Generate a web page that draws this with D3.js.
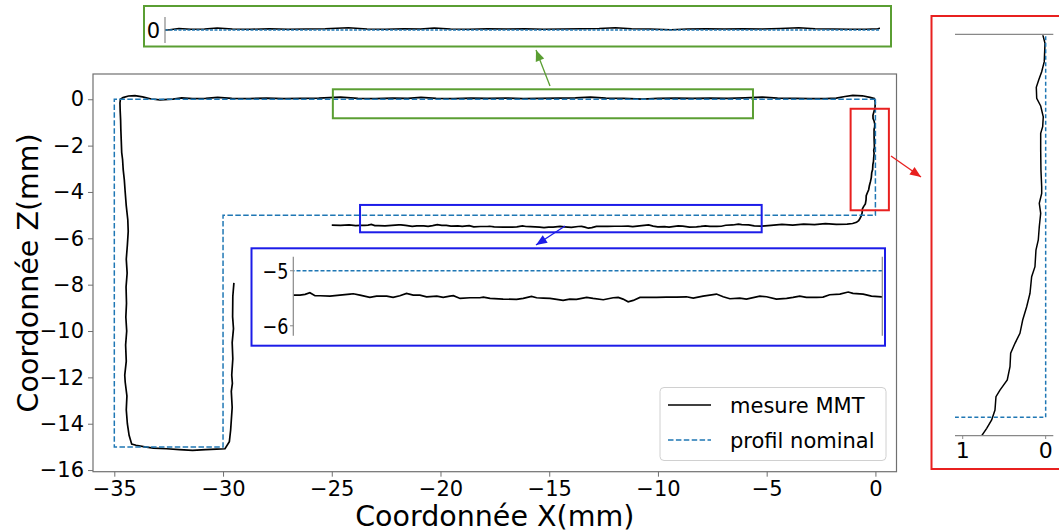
<!DOCTYPE html>
<html><head><meta charset="utf-8">
<script src="https://cdn.jsdelivr.net/npm/d3@7"></script>
<style>body{margin:0;background:#fff}svg{display:block}text{font-family:"DejaVu Sans",sans-serif;fill:#000}</style>
</head><body><svg id="c" width="1059" height="532"></svg>
<script>
// ---- data (mm) ----
const measureX = [-29.50,-29.55,-29.56,-29.52,-29.58,-29.55,-29.60,-29.57,-29.62,-29.58,-29.65,-29.71,-29.91,-30.3,-30.8,-31.4,-32.0,-32.6,-33.2,-33.6,-34.0,-34.2,
 -34.32,-34.40,-34.45,-34.42,-34.50,-34.52,-34.45,-34.48,-34.43,-34.47,-34.44,-34.46,-34.41,-34.45,-34.40,-34.36,-34.38,-34.45,-34.50,-34.54,-34.59,-34.62,-34.66,-34.68,-34.70,-34.71,-34.73,-34.74,-34.72,-34.6,-34.35,-34.05,-33.7,-33.3,
 -32.9,-32.3,-31.9,-31.4,-30.8,-30.25,-29.6,-28.8,-28.0,-27.2,-26.4,-25.6,-24.6,-23.8,-23.0,-22.2,-21.5,-20.9,-20.2,-19.4,-18.6,-17.8,-17.0,-16.2,-15.4,-14.6,-13.8,-13.1,-12.4,-11.6,-10.7,-10.0,-9.2,-8.4,-7.6,-6.8,-6.0,-5.2,-4.5,-3.7,-3.0,-2.3,-1.8,-1.4,-1.04,-0.6,-0.25,-0.05,
 -0.036,-0.008,-0.017,-0.048,-0.084,-0.113,-0.108,-0.060,-0.029,-0.036,-0.060,-0.060,-0.057,-0.048,-0.048,-0.077,-0.060,-0.077,-0.089,-0.117,-0.129,-0.169,-0.189,-0.229,-0.277,-0.310,-0.370,-0.422,-0.430,-0.463,-0.551,-0.599,-0.611,-0.651,-0.711,-0.771,-0.87,-1.05,-1.3,
 -1.8,-2.3,-2.8,-3.3,-3.8,-4.3,-4.8,-5.25,-5.57,-5.83,-6.15,-6.30,-6.56,-6.88,-7.09,-7.29,-7.61,-7.82,-8.03,-8.23,-8.55,-8.86,-9.07,-9.49,-9.70,-10.01,-10.22,-10.43,-10.85,-11.16,-11.37,-11.68,-12.00,-12.31,-12.52,-12.83,-13.04,-13.20,-13.36,-13.51,-13.67,-13.98,-14.30,-14.50,-14.82,
 -15.03,-15.24,-15.44,-15.65,-15.86,-16.07,-16.23,-16.49,-16.70,-17.12,-17.53,-17.74,-17.85,-18.16,-18.47,-18.68,-18.79,-19.00,-19.20,-19.52,-19.73,-19.94,-20.15,-20.36,-20.57,-20.77,-21.09,-21.30,-21.61,-21.82,-21.92,-22.24,-22.55,-22.86,-23.02,-23.18,-23.33,-23.49,-23.70,-23.9,-24.2,-24.6,-25.0];
const measureZ = [-7.92,-8.5,-9.38,-9.9,-10.5,-11.2,-11.9,-12.26,-12.6,-13.3,-14.27,-14.78,-15.08,-15.10,-15.12,-15.15,-15.12,-15.08,-15.05,-15.00,-14.93,-14.88,
 -14.5,-14.0,-13.4,-12.8,-12.2,-11.9,-11.3,-10.6,-10.0,-9.4,-8.8,-8.1,-7.5,-6.9,-6.3,-5.7,-5.2,-4.6,-4.0,-3.48,-3.05,-2.6,-2.3,-1.8,-1.3,-0.9,-0.5,-0.16,0.0,0.07,0.14,0.16,0.10,0.01,
 -0.03,0.01,0.06,0.03,0.04,0.08,0.04,0.03,0.05,0.03,0.04,0.05,0.09,0.04,0.03,0.05,0.04,0.08,0.04,0.03,0.05,0.04,0.05,0.03,0.04,0.05,0.06,0.09,0.05,0.04,0.01,0.04,0.05,0.04,0.05,0.04,0.06,0.09,0.05,0.04,0.03,0.03,0.05,0.12,0.17,0.15,0.08,0.03,
 0.0,-0.117,-0.357,-0.488,-0.597,-0.692,-0.836,-0.936,-1.076,-1.206,-1.292,-1.510,-1.772,-1.990,-2.076,-2.206,-2.337,-2.512,-2.685,-2.816,-3.034,-3.164,-3.381,-3.556,-3.730,-3.903,-4.034,-4.164,-4.339,-4.513,-4.644,-4.731,-4.905,-5.035,-5.144,-5.240,-5.31,-5.36,-5.39,
 -5.40,-5.37,-5.41,-5.39,-5.43,-5.40,-5.44,-5.473,-5.460,-5.424,-5.412,-5.387,-5.424,-5.436,-5.479,-5.485,-5.485,-5.460,-5.485,-5.503,-5.515,-5.473,-5.460,-5.515,-5.497,-5.509,-5.473,-5.424,-5.460,-5.497,-5.473,-5.479,-5.479,-5.485,-5.485,-5.485,-5.539,-5.564,-5.515,-5.485,-5.491,-5.527,-5.503,-5.485,-5.521,
 -5.515,-5.539,-5.521,-5.503,-5.497,-5.491,-5.467,-5.503,-5.521,-5.515,-5.503,-5.479,-5.491,-5.491,-5.503,-5.454,-5.460,-5.485,-5.460,-5.473,-5.442,-5.442,-5.412,-5.454,-5.485,-5.460,-5.460,-5.485,-5.442,-5.418,-5.424,-5.442,-5.460,-5.454,-5.454,-5.400,-5.430,-5.442,-5.442,-5.45,-5.42,-5.44,-5.43];
const nominalX = [0,-35,-35,-30,-30,0,0];
const nominalZ = [0,0,-15,-15,-5,-5,0];
const xTicks = [-35,-30,-25,-20,-15,-10,-5,0];
const zTicks = [0,-2,-4,-6,-8,-10,-12,-14,-16];
const seriesLabels = ["mesure MMT","profil nominal"];
const axisTitles = ["Coordonnée X(mm)","Coordonnée Z(mm)"];
// zoom windows in data units: [x0, x1, z0, z1]
const zoomGreen = [-24.95,-5.63,0.43,-0.82];
const zoomBlue = [-23.70,-5.23,-4.56,-5.74];
const zoomRed = [-1.14,0.62,-0.41,-4.79];
const greenInsetX = [-32.5,-1.7], greenInsetZ = [-0.5,0.5], greenTicks=[0];
const blueInsetX = [-23.70,-5.23], blueInsetZ = [-6.18,-4.745], blueTicks=[-5,-6];
const redInsetX = [-1.093,0.092], redInsetZ = [-5.24,0], redTicks=[-1,0];

const svg = d3.select("#c");
const fmt = d => d < 0 ? "\u2212" + Math.abs(d) : String(d);
const pts = measureX.map((v,i)=>[v,measureZ[i]]);
const npts = nominalX.map((v,i)=>[v,nominalZ[i]]);
const BLUE = "#1f77b4", GREEN="#5a9e32", ZB="#1c1ce8", RED="#e8201f", SP="#707070";

// ---- main axes ----
const L=93,R=896.5,T=74,B=471.7;
const x = d3.scaleLinear().domain([-35.98,0.97]).range([L,R]);
const y = d3.scaleLinear().domain([-16.07,1.09]).range([B,T]);
const line = (sx,sy)=>d3.line().x(d=>sx(d[0])).y(d=>sy(d[1]));

svg.append("clipPath").attr("id","cm").append("rect").attr("x",L).attr("y",T).attr("width",R-L).attr("height",B-T);
const gm = svg.append("g").attr("clip-path","url(#cm)");
gm.append("path").datum(pts).attr("d",line(x,y)).attr("fill","none").attr("stroke","#000").attr("stroke-width",1.7);
gm.append("path").datum(npts).attr("d",line(x,y)).attr("fill","none").attr("stroke",BLUE).attr("stroke-width",1.5).attr("stroke-dasharray","5.5,2.4");

// zoom rectangles
[[zoomGreen,GREEN],[zoomBlue,ZB],[zoomRed,RED]].forEach(([z,c])=>{
  svg.append("rect").attr("x",x(z[0])).attr("y",y(z[2])).attr("width",x(z[1])-x(z[0])).attr("height",y(z[3])-y(z[2]))
   .attr("fill","none").attr("stroke",c).attr("stroke-width",2);
});

// axes
const ax = svg.append("g").attr("transform",`translate(0,${B})`).call(d3.axisBottom(x).tickValues(xTicks).tickFormat(fmt).tickSize(5).tickPadding(4));
const ay = svg.append("g").attr("transform",`translate(${L},0)`).call(d3.axisLeft(y).tickValues(zTicks).tickFormat(fmt).tickSize(5).tickPadding(4));
[ax,ay].forEach(g=>{g.select(".domain").remove();g.selectAll("line").attr("stroke",SP).attr("stroke-width",1);
  g.selectAll("text").style("font-size","21px").style("font-family","DejaVu Sans").attr("fill","#000");});
svg.append("rect").attr("x",L).attr("y",T).attr("width",R-L).attr("height",B-T).attr("fill","none").attr("stroke",SP).attr("stroke-width",1.2);

svg.append("text").attr("x",(L+R)/2).attr("y",526).attr("text-anchor","middle").style("font-size","28.5px").text(axisTitles[0]);
svg.append("text").attr("transform",`translate(38,${(T+B)/2}) rotate(-90)`).attr("text-anchor","middle").style("font-size","28.5px").text(axisTitles[1]);

// legend
const lg = svg.append("g");
lg.append("rect").attr("x",660).attr("y",387.5).attr("width",226).attr("height",73).attr("rx",4).attr("fill","#fff").attr("fill-opacity",0.85).attr("stroke","#d0d0d0");
[[405,"#000",null],[440,BLUE,"5.5,2.4"]].forEach(([yy,c,da],i)=>{
  lg.append("line").attr("x1",668).attr("x2",711).attr("y1",yy).attr("y2",yy).attr("stroke",c).attr("stroke-width",1.5).attr("stroke-dasharray",da);
  lg.append("text").attr("x",730).attr("y",yy).attr("dy","0.36em").style("font-size","21px").text(seriesLabels[i]);
});

// ---- arrows ----
function arrow(x1,y1,x2,y2,c){
  svg.append("line").attr("x1",x1).attr("y1",y1).attr("x2",x2).attr("y2",y2).attr("stroke",c).attr("stroke-width",1.3);
  const a=Math.atan2(y2-y1,x2-x1), h=11, w=4.5;
  const p=[[x2,y2],[x2-h*Math.cos(a)+w*Math.sin(a),y2-h*Math.sin(a)-w*Math.cos(a)],[x2-h*Math.cos(a)-w*Math.sin(a),y2-h*Math.sin(a)+w*Math.cos(a)]];
  svg.append("path").attr("d","M"+p.join("L")+"Z").attr("fill",c);
}
arrow(550,86,536,50,GREEN);
arrow(891,156,921,177,RED);
arrow(565,226,536,245,ZB);

// ---- green inset ----
svg.append("rect").attr("x",144).attr("y",6).attr("width",747).attr("height",40.5).attr("fill","#fff").attr("stroke",GREEN).attr("stroke-width",2);
const gx = d3.scaleLinear().domain(greenInsetX).range([165,880]);
const gy = d3.scaleLinear().domain(greenInsetZ).range([43,17]);
svg.append("clipPath").attr("id","cg").append("rect").attr("x",165).attr("y",10).attr("width",715).attr("height",34);
const gg = svg.append("g").attr("clip-path","url(#cg)");
gg.append("path").datum(pts).attr("d",line(gx,gy)).attr("fill","none").attr("stroke","#000").attr("stroke-width",1.5);
gg.append("path").datum(npts).attr("d",line(gx,gy)).attr("fill","none").attr("stroke",BLUE).attr("stroke-width",1.5).attr("stroke-dasharray","3,1.5");
svg.append("line").attr("x1",165).attr("x2",165).attr("y1",17).attr("y2",43).attr("stroke","#888").attr("stroke-width",1.2);
greenTicks.forEach(t=>svg.append("text").attr("x",160).attr("y",gy(t)).attr("dy","0.36em").attr("text-anchor","end").style("font-size","21px").text(fmt(t)));

// ---- blue inset ----
svg.append("rect").attr("x",251.5).attr("y",248.3).attr("width",633.5).attr("height",97.4).attr("fill","#fff").attr("stroke",ZB).attr("stroke-width",2);
const bx = d3.scaleLinear().domain(blueInsetX).range([293.3,882.3]);
const by = d3.scaleLinear().domain(blueInsetZ).range([335.7,256.7]);
svg.append("clipPath").attr("id","cb").append("rect").attr("x",293.3).attr("y",256.7).attr("width",589).attr("height",79);
const gb = svg.append("g").attr("clip-path","url(#cb)");
gb.append("path").datum(pts).attr("d",line(bx,by)).attr("fill","none").attr("stroke","#000").attr("stroke-width",1.7);
gb.append("path").datum(npts).attr("d",line(bx,by)).attr("fill","none").attr("stroke",BLUE).attr("stroke-width",1.5).attr("stroke-dasharray","4,2");
[293.3,882.3].forEach(xx=>svg.append("line").attr("x1",xx).attr("x2",xx).attr("y1",256.7).attr("y2",335.7).attr("stroke","#888").attr("stroke-width",1.2));
blueTicks.forEach(t=>{
  svg.append("line").attr("x1",290).attr("x2",293.3).attr("y1",by(t)).attr("y2",by(t)).attr("stroke","#888");
  svg.append("text").attr("transform",`translate(288.5,${by(t)}) scale(0.8,1)`).attr("dy","0.36em").attr("text-anchor","end").style("font-size","22px").text(fmt(t));
});

// ---- red inset ----
svg.append("rect").attr("x",931.5).attr("y",16).attr("width",140).attr("height",453).attr("fill","#fff").attr("stroke",RED).attr("stroke-width",2);
const rx = d3.scaleLinear().domain(redInsetX).range([955,1053.3]);
const ry = d3.scaleLinear().domain(redInsetZ).range([435.7,34.3]);
svg.append("clipPath").attr("id","cr").append("rect").attr("x",955).attr("y",35.3).attr("width",98.3).attr("height",400.4);
const gr = svg.append("g").attr("clip-path","url(#cr)");
gr.append("path").datum(pts).attr("d",line(rx,ry)).attr("fill","none").attr("stroke","#000").attr("stroke-width",1.5);
gr.append("path").datum(npts).attr("d",line(rx,ry)).attr("fill","none").attr("stroke",BLUE).attr("stroke-width",1.5).attr("stroke-dasharray","4,2.5");
[34.3,435.7].forEach(yy=>svg.append("line").attr("x1",955).attr("x2",1053.3).attr("y1",yy).attr("y2",yy).attr("stroke","#888").attr("stroke-width",1.2));
redTicks.forEach(t=>{
  svg.append("line").attr("x1",rx(t)).attr("x2",rx(t)).attr("y1",435.7).attr("y2",439).attr("stroke","#888");
  svg.append("text").attr("x",rx(t)).attr("y",450).attr("dy","0.36em").attr("text-anchor","middle").style("font-size","22px").text(String(Math.abs(t)));
});
</script></body></html>
